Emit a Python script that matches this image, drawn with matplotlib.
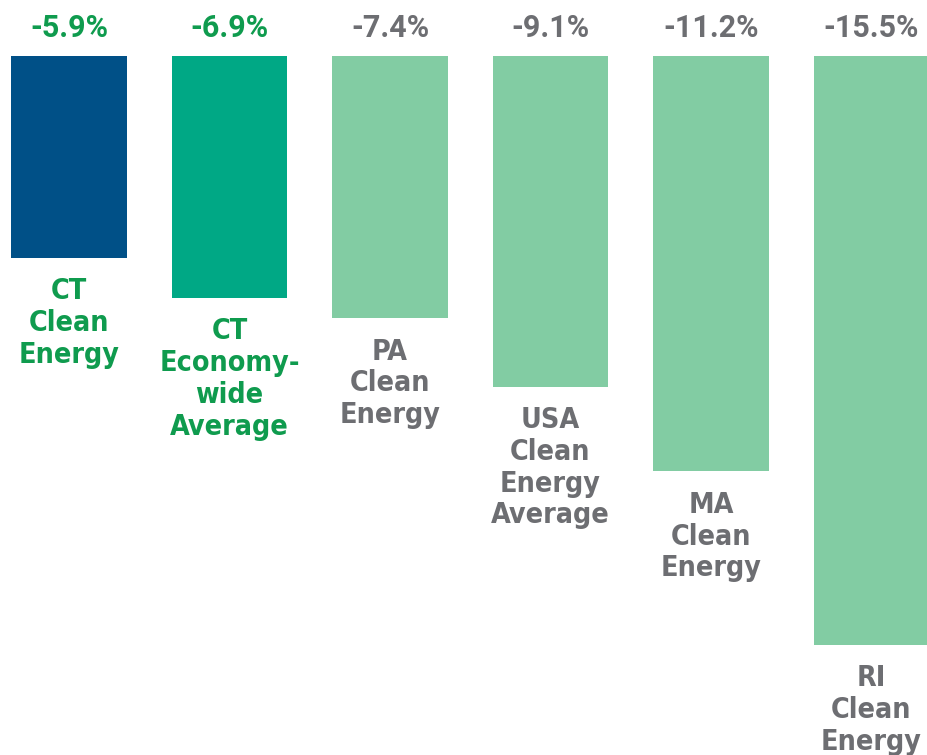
import matplotlib.pyplot as plt

# data
labels = ["CT\nClean\nEnergy", "CT\nEconomy-\nwide\nAverage", "PA\nClean\nEnergy",
          "USA\nClean\nEnergy\nAverage", "MA\nClean\nEnergy", "RI\nClean\nEnergy"]
values = [-5.9, -6.9, -7.4, -9.1, -11.2, -15.5]
value_labels = ["-5.9%", "-6.9%", "-7.4%", "-9.1%", "-11.2%", "-15.5%"]
bar_colors = ["#005087", "#00A885", "#82CCA3", "#82CCA3", "#82CCA3", "#82CCA3"]
text_colors = ["#0F9B4E", "#0F9B4E", "#6D6E72", "#6D6E72", "#6D6E72", "#6D6E72"]


def plot():
    fig = plt.figure(figsize=(9.27, 7.55), dpi=100)
    ax = fig.add_axes([0, 0, 1, 699 / 755])
    x = list(range(len(values)))
    ax.bar(x, values, width=0.7227, color=bar_colors)
    ax.set_xlim(-0.4299, 5.3458)
    ax.set_ylim(-18.24, -0.893)
    ax.axis("off")

    top = ax.get_ylim()[1]
    for i, v in enumerate(values):
        # value above the plot area
        ax.annotate(value_labels[i], (i, top), xytext=(0, 20), textcoords="offset points",
                    ha="center", va="center", fontsize=22, fontweight="bold",
                    family=["Roboto", "DejaVu Sans"], color=text_colors[i],
                    annotation_clip=False)
        # category under the bar
        ax.annotate(labels[i], (i, v), xytext=(0, -14), textcoords="offset points",
                    ha="center", va="top", fontsize=20.5, fontweight="bold",
                    fontstretch="condensed",
                    family=["DejaVu Sans"], color=text_colors[i],
                    linespacing=1.17, annotation_clip=False)

    fig.savefig("out.png", dpi=100)


if __name__ == "__main__":
    plot()
